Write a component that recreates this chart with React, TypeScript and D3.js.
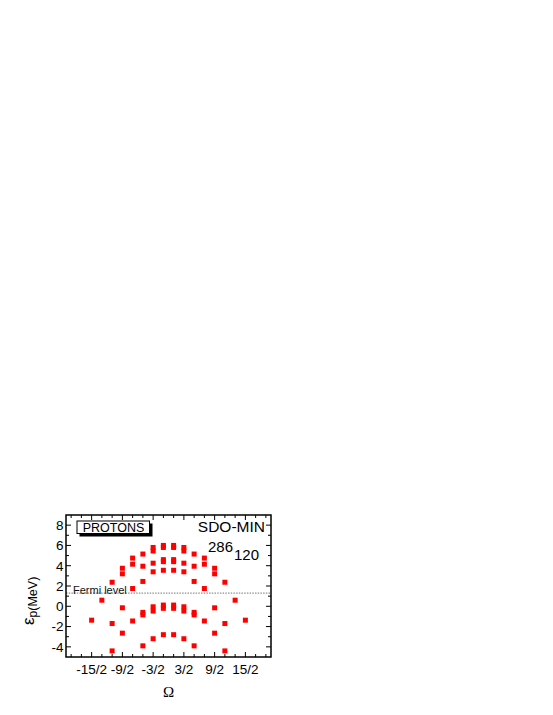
import React from "react";
import * as d3 from "d3";

// Ω values (half-integers) of each column of levels
const omegaColumns = [-7.5, -6.5, -5.5, -4.5, -3.5, -2.5, -1.5, -0.5, 0.5, 1.5, 2.5, 3.5, 4.5, 5.5, 6.5, 7.5];
// single-particle proton energies (MeV) in each column
const levelEnergies: number[][] = [
  [-1.37],
  [0.6],
  [2.37, -1.7, -4.4],
  [3.75, 3.2, -0.15, -2.65],
  [4.75, 4.15, 1.75, -1.45],
  [5.15, 3.95, 2.45, -0.6, -0.85, -3.9],
  [5.8, 5.45, 4.25, 3.4, -0.05, -0.47, -3.2],
  [6.0, 5.8, 4.6, 4.4, 3.55, 0.12, -0.2, -2.8],
  [6.0, 5.8, 4.6, 4.4, 3.55, 0.12, -0.2, -2.8],
  [5.8, 5.45, 4.25, 3.4, -0.05, -0.47, -3.2],
  [5.15, 3.95, 2.45, -0.6, -0.85, -3.9],
  [4.75, 4.15, 1.75, -1.45],
  [3.75, 3.2, -0.15, -2.65],
  [2.37, -1.7, -4.4],
  [0.6],
  [-1.37],
];
const fermiLevel = 1.3;

const xTickValues = [-7.5, -4.5, -1.5, 1.5, 4.5, 7.5];
const xTickLabels = ["-15/2", "-9/2", "-3/2", "3/2", "9/2", "15/2"];
const yTickValues = [-4, -2, 0, 2, 4, 6, 8];
const yTickLabels = ["-4", "-2", "0", "2", "4", "6", "8"];

const SANS = "'Liberation Sans', Arial, sans-serif";

export default function App() {
  const left = 66, right = 271, top = 515, bottom = 657;
  const x = d3.scaleLinear().domain([-10, 10]).range([left, right]);
  const y = d3.scaleLinear().domain([-5, 9]).range([bottom, top]);

  const xMinor = d3.range(-9.5, 10, 1).filter((v) => !xTickValues.includes(v));
  const yMinor = d3.range(-5, 10, 1).filter((v) => !yTickValues.includes(v) && v > -5 && v < 9);

  const points: { o: number; e: number }[] = [];
  omegaColumns.forEach((o, i) => levelEnergies[i].forEach((e) => points.push({ o, e })));

  const sq = 5;
  const majorLen = 5, minorLen = 3;

  return (
    <svg width={553} height={715} style={{ position: "absolute", left: 0, top: 0 }}>
      <rect x={0} y={0} width={553} height={715} fill="#fff" />
      {/* Fermi level */}
      <line
        x1={left}
        x2={right}
        y1={y(fermiLevel)}
        y2={y(fermiLevel)}
        stroke="#666"
        strokeWidth={0.9}
        strokeDasharray="1.5 1.2"
      />
      <text x={73} y={y(fermiLevel) + 0.5} fontFamily={SANS} fontSize={11} fill="#111">
        Fermi level
      </text>

      {/* points */}
      {points.map((p, i) => (
        <rect key={i} x={x(p.o) - sq / 2} y={y(p.e) - sq / 2} width={sq} height={sq} fill="#ff0000" />
      ))}

      {/* ticks */}
      {xTickValues.map((v) => (
        <g key={"xm" + v}>
          <line x1={x(v)} x2={x(v)} y1={bottom} y2={bottom - majorLen} stroke="#000" strokeWidth={1} />
          <line x1={x(v)} x2={x(v)} y1={top} y2={top + majorLen} stroke="#000" strokeWidth={1} />
        </g>
      ))}
      {xMinor.map((v) => (
        <g key={"xn" + v}>
          <line x1={x(v)} x2={x(v)} y1={bottom} y2={bottom - minorLen} stroke="#000" strokeWidth={1} />
          <line x1={x(v)} x2={x(v)} y1={top} y2={top + minorLen} stroke="#000" strokeWidth={1} />
        </g>
      ))}
      {yTickValues.map((v) => (
        <g key={"ym" + v}>
          <line x1={left} x2={left + majorLen} y1={y(v)} y2={y(v)} stroke="#000" strokeWidth={1} />
          <line x1={right} x2={right - majorLen} y1={y(v)} y2={y(v)} stroke="#000" strokeWidth={1} />
        </g>
      ))}
      {yMinor.map((v) => (
        <g key={"yn" + v}>
          <line x1={left} x2={left + minorLen} y1={y(v)} y2={y(v)} stroke="#000" strokeWidth={1} />
          <line x1={right} x2={right - minorLen} y1={y(v)} y2={y(v)} stroke="#000" strokeWidth={1} />
        </g>
      ))}

      {/* frame */}
      <rect x={left} y={top} width={right - left} height={bottom - top} fill="none" stroke="#000" strokeWidth={1.5} />

      {/* tick labels */}
      {xTickValues.map((v, i) => (
        <text key={"xl" + v} x={x(v)} y={674} textAnchor="middle" fontFamily={SANS} fontSize={13.5} fill="#000">
          {xTickLabels[i]}
        </text>
      ))}
      {yTickValues.map((v, i) => (
        <text key={"yl" + v} x={63.5} y={y(v) + 4.8} textAnchor="end" fontFamily={SANS} fontSize={13.5} fill="#000">
          {yTickLabels[i]}
        </text>
      ))}

      {/* axis titles */}
      <text x={(left + right) / 2} y={697} textAnchor="middle" fontFamily="'Liberation Serif', 'Times New Roman', serif" fontSize={15} fill="#000">
        Ω
      </text>
      <text transform="translate(33.5,625) rotate(-90)" fontFamily={SANS} fill="#000">
        <tspan fontSize={17}>ε</tspan>
        <tspan fontSize={12} dy={3}>p</tspan>
        <tspan fontSize={12.5}>(MeV)</tspan>
      </text>

      {/* PROTONS box */}
      <rect x={79.5} y={523.5} width={73} height={13} fill="#000" />
      <rect x={77} y={521} width={72.5} height={12.5} fill="#fff" stroke="#000" strokeWidth={1} />
      <text x={113.5} y={531.6} textAnchor="middle" fontFamily={SANS} fontSize={12.5} fill="#000">
        PROTONS
      </text>

      {/* labels */}
      <text x={265} y={531.5} textAnchor="end" fontFamily={SANS} fontSize={15.5} fill="#000">
        SDO-MIN
      </text>
      <text x={208} y={552} fontFamily={SANS} fontSize={15} fill="#000">
        286
      </text>
      <text x={234} y={559.5} fontFamily={SANS} fontSize={15} fill="#000">
        120
      </text>
    </svg>
  );
}
